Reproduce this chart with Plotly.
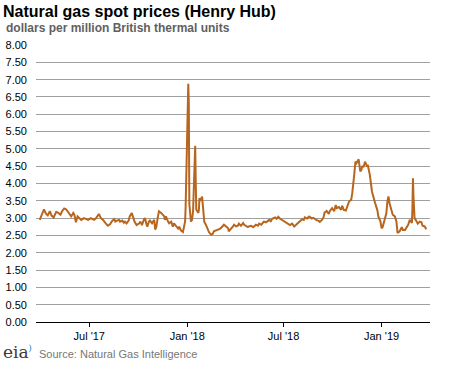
import plotly.graph_objects as go

dates = [
    "2017-03-30", "2017-04-03", "2017-04-07", "2017-04-11", "2017-04-14", "2017-04-18",
    "2017-04-21", "2017-04-25", "2017-04-30", "2017-05-04", "2017-05-08", "2017-05-11",
    "2017-05-15", "2017-05-19", "2017-05-22", "2017-05-25", "2017-05-28", "2017-06-01",
    "2017-06-03", "2017-06-06", "2017-06-09", "2017-06-12", "2017-06-16", "2017-06-21",
    "2017-06-25", "2017-06-29", "2017-07-04", "2017-07-10", "2017-07-14", "2017-07-19",
    "2017-07-23", "2017-07-27", "2017-08-01", "2017-08-05", "2017-08-09", "2017-08-13",
    "2017-08-17", "2017-08-19", "2017-08-22", "2017-08-26", "2017-08-28", "2017-09-01",
    "2017-09-04", "2017-09-06", "2017-09-09", "2017-09-13", "2017-09-15", "2017-09-19",
    "2017-09-22", "2017-09-24", "2017-09-28", "2017-10-03", "2017-10-05", "2017-10-08",
    "2017-10-12", "2017-10-14", "2017-10-16", "2017-10-18", "2017-10-21", "2017-10-23",
    "2017-10-27", "2017-10-31", "2017-11-02", "2017-11-04", "2017-11-07", "2017-11-09",
    "2017-11-13", "2017-11-17", "2017-11-19", "2017-11-20", "2017-11-22", "2017-11-26",
    "2017-11-28", "2017-12-02", "2017-12-05", "2017-12-07", "2017-12-11", "2017-12-15",
    "2017-12-17", "2017-12-20", "2017-12-24", "2017-12-26", "2017-12-28", "2017-12-29",
    "2018-01-02", "2018-01-03", "2018-01-04", "2018-01-05", "2018-01-08", "2018-01-10",
    "2018-01-12", "2018-01-15", "2018-01-16", "2018-01-17", "2018-01-18", "2018-01-22",
    "2018-01-23", "2018-01-24", "2018-01-26", "2018-01-29", "2018-01-30", "2018-01-31",
    "2018-02-02", "2018-02-05", "2018-02-09", "2018-02-11", "2018-02-15", "2018-02-18",
    "2018-02-20", "2018-02-24", "2018-02-28", "2018-03-02", "2018-03-05", "2018-03-09",
    "2018-03-11", "2018-03-15", "2018-03-19", "2018-03-20", "2018-03-24", "2018-03-28",
    "2018-03-30", "2018-04-03", "2018-04-06", "2018-04-08", "2018-04-12", "2018-04-16",
    "2018-04-18", "2018-04-22", "2018-04-25", "2018-04-27", "2018-05-01", "2018-05-05",
    "2018-05-07", "2018-05-10", "2018-05-14", "2018-05-16", "2018-05-20", "2018-05-23",
    "2018-05-25", "2018-05-29", "2018-06-01", "2018-06-04", "2018-06-07", "2018-06-09",
    "2018-06-12", "2018-06-15", "2018-06-18", "2018-06-21", "2018-06-24", "2018-06-28",
    "2018-07-02", "2018-07-05", "2018-07-07", "2018-07-10", "2018-07-13", "2018-07-17",
    "2018-07-21", "2018-07-24", "2018-07-27", "2018-07-30", "2018-08-02", "2018-08-05",
    "2018-08-08", "2018-08-10", "2018-08-14", "2018-08-18", "2018-08-21", "2018-08-23",
    "2018-08-26", "2018-08-29", "2018-09-01", "2018-09-05", "2018-09-07", "2018-09-11",
    "2018-09-14", "2018-09-16", "2018-09-20", "2018-09-24", "2018-09-26", "2018-09-30",
    "2018-10-04", "2018-10-07", "2018-10-09", "2018-10-13", "2018-10-17", "2018-10-19",
    "2018-10-22", "2018-10-26", "2018-10-28", "2018-11-01", "2018-11-05", "2018-11-07",
    "2018-11-11", "2018-11-13", "2018-11-15", "2018-11-19", "2018-11-22", "2018-11-24",
    "2018-11-26", "2018-11-28", "2018-12-01", "2018-12-03", "2018-12-05", "2018-12-06",
    "2018-12-10", "2018-12-14", "2018-12-16", "2018-12-20", "2018-12-24", "2018-12-26",
    "2018-12-30", "2019-01-01", "2019-01-03", "2019-01-07", "2019-01-10", "2019-01-12",
    "2019-01-14", "2019-01-16", "2019-01-20", "2019-01-22", "2019-01-26", "2019-01-29",
    "2019-01-31", "2019-02-04", "2019-02-08", "2019-02-10", "2019-02-14", "2019-02-18",
    "2019-02-20", "2019-02-23", "2019-02-27", "2019-02-28", "2019-03-01", "2019-03-02",
    "2019-03-04", "2019-03-08", "2019-03-10", "2019-03-14", "2019-03-17", "2019-03-19",
    "2019-03-23", "2019-03-26",
]

prices = [
    2.95, 3.12, 3.25, 3.12, 3.08, 3.20,
    3.08, 3.02, 3.18, 3.15, 3.10, 3.20,
    3.28, 3.25, 3.20, 3.12, 3.05, 3.15,
    3.10, 2.88, 3.05, 3.00, 2.95, 3.00,
    2.97, 2.95, 3.00, 2.95, 3.00, 3.12,
    3.00, 2.95, 2.85, 2.78, 2.82, 2.92,
    2.97, 2.90, 2.93, 2.95, 2.90, 2.93,
    2.87, 2.90, 2.85, 2.93, 3.05, 3.15,
    3.00, 2.90, 2.80, 2.85, 2.90, 2.80,
    2.97, 3.00, 2.85, 2.75, 2.90, 2.93,
    2.85, 2.95, 2.67, 2.75, 3.05, 3.20,
    3.15, 3.10, 3.05, 2.95, 3.05, 2.90,
    2.85, 2.90, 2.75, 2.85, 2.77, 2.70,
    2.75, 2.65, 2.60, 2.72, 2.90, 3.30,
    6.10, 6.88, 6.30, 3.40, 2.90, 2.95,
    3.20, 4.40, 5.09, 4.10, 3.25, 3.15,
    3.25, 3.58, 3.50, 3.62, 3.45, 3.14,
    2.90, 2.81, 2.66, 2.59, 2.52, 2.55,
    2.62, 2.64, 2.66, 2.68, 2.71, 2.76,
    2.81, 2.76, 2.71, 2.62, 2.68, 2.76,
    2.81, 2.76, 2.78, 2.84, 2.78, 2.86,
    2.81, 2.76, 2.74, 2.76, 2.78, 2.74,
    2.76, 2.81, 2.78, 2.84, 2.81, 2.88,
    2.90, 2.88, 2.93, 2.95, 2.91, 2.97,
    3.00, 3.02, 2.98, 3.04, 2.99, 2.95,
    2.92, 2.88, 2.86, 2.83, 2.80, 2.84,
    2.76, 2.80, 2.84, 2.88, 2.93, 2.97,
    2.95, 3.02, 2.99, 3.05, 3.02, 2.99,
    3.01, 2.97, 2.94, 2.92, 2.89, 2.95,
    3.02, 3.16, 3.21, 3.12, 3.21, 3.29,
    3.20, 3.38, 3.29, 3.32, 3.24, 3.36,
    3.24, 3.22, 3.32, 3.48, 3.53, 3.72,
    4.30, 4.63, 4.59, 4.70, 4.35, 4.39,
    4.51, 4.47, 4.63, 4.54, 4.49, 4.54,
    4.25, 3.77, 3.64, 3.43, 3.24, 3.05,
    2.90, 2.71, 2.74, 2.95, 3.14, 3.48,
    3.63, 3.43, 3.24, 3.10, 3.05, 2.90,
    2.57, 2.62, 2.74, 2.66, 2.66, 2.76,
    2.81, 2.95, 2.86, 3.30, 4.15, 3.60,
    3.00, 2.90, 2.84, 2.90, 2.88, 2.78,
    2.76, 2.68,
]

tick_dates = ["2017-07-01", "2018-01-01", "2018-07-01", "2019-01-01"]
tick_labels = ["Jul '17", "Jan '18", "Jul '18", "Jan '19"]
y_ticks = [i * 0.5 for i in range(17)]

FONT = "Liberation Sans, Arial, sans-serif"

fig = go.Figure()
fig.add_trace(go.Scatter(
    x=dates, y=prices, mode="lines",
    line=dict(color="#b8651d", width=2),
    hoverinfo="skip",
))

fig.update_layout(
    width=468, height=366,
    autosize=False,
    margin=dict(l=36, r=38, t=45, b=44, autoexpand=False),
    paper_bgcolor="white", plot_bgcolor="white",
    showlegend=False,
    font=dict(family=FONT, size=11, color="black"),
    xaxis=dict(
        type="date",
        range=["2017-03-23", "2019-04-02"],
        tickvals=tick_dates, ticktext=tick_labels,
        showgrid=False, showline=True, linecolor="black", linewidth=1,
        ticks="outside", ticklen=4, tickcolor="black",
        tickfont=dict(size=11, color="black", family=FONT),
        zeroline=False, automargin=False,
    ),
    yaxis=dict(
        range=[0, 8.001],
        tickvals=y_ticks, tickformat=".2f",
        showgrid=True, gridcolor="#a0a0a0", gridwidth=1,
        zeroline=False, showline=False, ticks="",
        ticklabelstandoff=8, automargin=False,
        tickfont=dict(size=11, color="black", family=FONT),
    ),
    annotations=[
        dict(text="<b>Natural gas spot prices (Henry Hub)</b>", xref="paper", yref="paper",
             x=(1 - 36) / 394, y=(322 - 11) / 277, xanchor="left", yanchor="middle",
             showarrow=False, font=dict(size=16, color="black", family=FONT)),
        dict(text="<b>dollars per million British thermal units</b>", xref="paper", yref="paper",
             x=(4 - 36) / 394, y=(322 - 28) / 277, xanchor="left", yanchor="middle",
             showarrow=False, font=dict(size=12, color="#5f5f5f", family=FONT)),
        dict(text="eia", xref="paper", yref="paper",
             x=(1 - 36) / 394, y=(322 - 352) / 277, xanchor="left", yanchor="middle",
             showarrow=False, font=dict(size=17, color="#3a3a3a", family="DejaVu Serif, serif")),
        dict(text=")", xref="paper", yref="paper",
             x=(26 - 36) / 394, y=(322 - 347) / 277, xanchor="left", yanchor="middle",
             showarrow=False, font=dict(size=10, color="#3d8fd1", family="DejaVu Serif, serif")),
        dict(text="Source: Natural Gas Intelligence", xref="paper", yref="paper",
             x=(37 - 36) / 394, y=(322 - 354) / 277, xanchor="left", yanchor="middle",
             showarrow=False, font=dict(size=11, color="#777777", family=FONT)),
    ],
)

fig.write_html(
    "out.html",
    config={"displayModeBar": False},
    post_script="document.body.style.margin='0';document.body.style.overflow='hidden';",
)
